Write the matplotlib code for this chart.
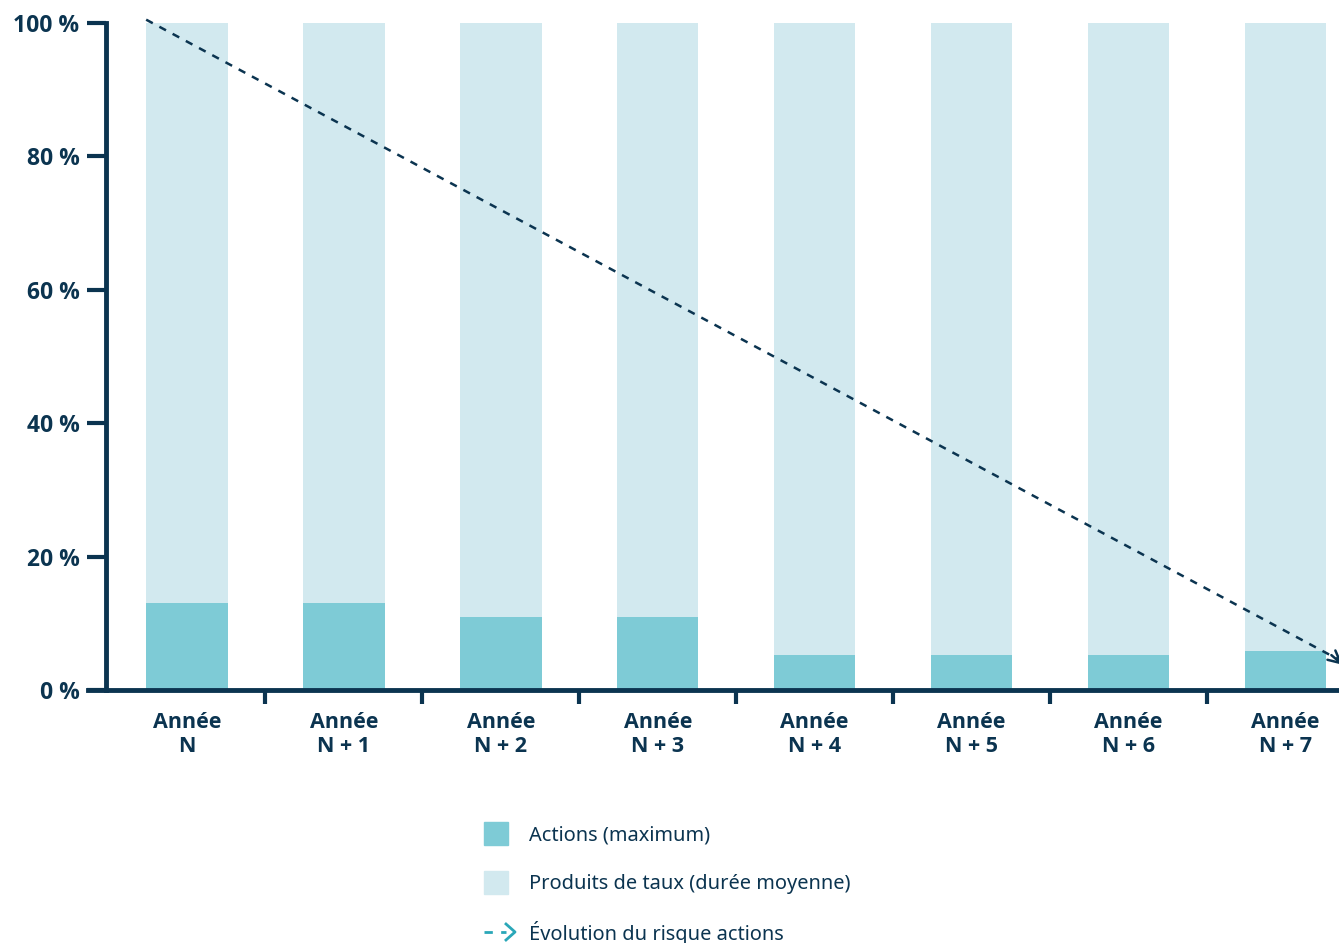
import numpy as np
import matplotlib.pyplot as plt
from matplotlib.patches import Rectangle
from matplotlib.lines import Line2D

# Data
categories = ["Année\nN", "Année\nN + 1", "Année\nN + 2", "Année\nN + 3",
              "Année\nN + 4", "Année\nN + 5", "Année\nN + 6", "Année\nN + 7"]
actions = [13, 13, 11, 11, 5.3, 5.3, 5.3, 5.8]
taux = [87, 87, 89, 89, 94.7, 94.7, 94.7, 94.7]
risk_x = [-0.26, 7.36]
risk_y = [100.5, 4.3]
y_ticks = [0, 20, 40, 60, 80, 100]

dark = "#0b3450"
c_actions = "#7ecbd6"
c_taux = "#d2e9ef"
c_arrow = "#2aa7b8"

plt.rcParams['font.family'] = ['Open Sans', 'DejaVu Sans']

fig = plt.figure(figsize=(13.39, 9.43), dpi=100)
ax = fig.add_axes([106 / 1339, 1 - 690 / 943, 1 - 106 / 1339, (690 - 23) / 943])

x = np.arange(len(categories))
ax.bar(x, actions, width=0.52, color=c_actions, zorder=2)
ax.bar(x, taux, width=0.52, bottom=actions, color=c_taux, zorder=2)

# risk trend line with arrow head (runs off the right edge)
ax.plot(risk_x, risk_y, color=dark, lw=1.8, ls=(0, (3, 3)), zorder=3, clip_on=False)
ax.annotate("", xy=(risk_x[1] + 0.02, risk_y[1] - 0.8), xytext=(risk_x[1] - 0.08, risk_y[1] + 1.2),
            arrowprops=dict(arrowstyle="->", color=dark, lw=1.8, mutation_scale=22),
            annotation_clip=False)

ax.set_xlim(-0.516, 7.342)
ax.set_ylim(0, 100)

for s in ["top", "right"]:
    ax.spines[s].set_visible(False)
ax.spines["left"].set_color(dark)
ax.spines["left"].set_linewidth(3.5)
ax.spines["bottom"].set_color(dark)
ax.spines["bottom"].set_linewidth(3.5)
ax.spines["bottom"].set_zorder(4)

ax.set_yticks(y_ticks)
ax.set_yticklabels([f"{t} %" for t in y_ticks])
ax.tick_params(axis="y", length=14, width=3, color=dark, labelcolor=dark,
               labelsize=16.5, pad=5)
for lab in ax.get_yticklabels():
    lab.set_fontweight("bold")

ax.set_xticks(x)
ax.set_xticklabels(categories, fontsize=15.5, fontweight="bold", color=dark,
                   linespacing=1.2)
ax.tick_params(axis="x", length=0, pad=16)
ax.set_xticks(x[:-1] + 0.5, minor=True)
ax.tick_params(axis="x", which="minor", length=10, width=3, color=dark)

# extend x axis line to the left past the y axis
ax.add_line(Line2D([-0.63, -0.516], [0, 0], color=dark, lw=3.5, clip_on=False))

# legend drawn manually
W, H = 1339, 943
def fx(px):
    return px / W
def fy(py):
    return 1 - py / H

fig.add_artist(Rectangle((fx(484), fy(845)), 24 / W, 23 / H, color=c_actions,
                         transform=fig.transFigure))
fig.add_artist(Rectangle((fx(484), fy(894)), 24 / W, 23 / H, color=c_taux,
                         transform=fig.transFigure))
leg_font = ['Noto Sans', 'DejaVu Sans']
fig.text(fx(529), fy(835), "Actions (maximum)", fontsize=14.4, color=dark, va="center",
         family=leg_font)
fig.text(fx(529), fy(884), "Produits de taux (durée moyenne)", fontsize=14.4, color=dark,
         va="center", family=leg_font)
fig.text(fx(529), fy(933), "Évolution du risque actions", fontsize=14.4, color=dark,
         va="center", family=leg_font)
fig.add_artist(Line2D([fx(484), fx(506)], [fy(932), fy(932)], color=c_arrow, lw=2,
                      ls=(0, (3, 3)), transform=fig.transFigure))
fig.add_artist(Line2D([fx(506), fx(515), fx(506)], [fy(924), fy(932), fy(940)],
                      color=c_arrow, lw=2, transform=fig.transFigure))

fig.savefig("out.png", dpi=100)
